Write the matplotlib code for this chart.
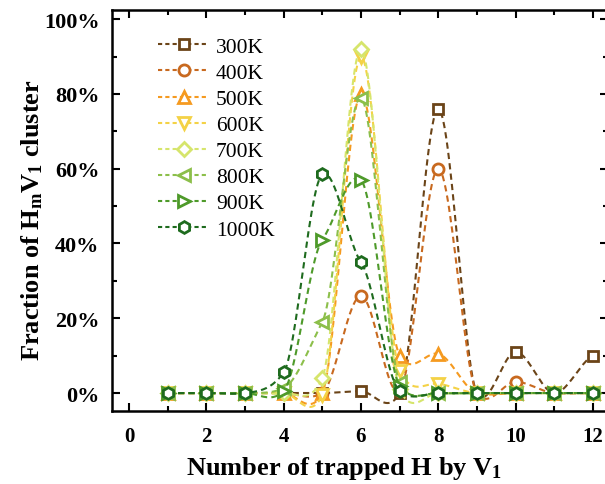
import numpy as np
import matplotlib
matplotlib.use("Agg")
import matplotlib.pyplot as plt
from matplotlib.ticker import MultipleLocator, FuncFormatter

plt.rcParams['font.family'] = ['Liberation Serif', 'DejaVu Serif']
plt.rcParams['font.weight'] = 'bold'
plt.rcParams['mathtext.fontset'] = 'custom'
plt.rcParams['mathtext.rm'] = 'Liberation Serif:bold'
plt.rcParams['mathtext.it'] = 'Liberation Serif:italic:bold'
plt.rcParams['mathtext.bf'] = 'Liberation Serif:bold'

n_h = [1, 2, 3, 4, 5, 6, 7, 8, 9, 10, 11, 12]
labels = ['300K', '400K', '500K', '600K', '700K', '800K', '900K', '1000K']
v300 = [0, 0, 0, 0, 0, 0.5, 0, 76, 0, 11, 0, 10]
v400 = [0, 0, 0, 0, 0, 26, 0.5, 60, 0, 3, 0, 0]
v500 = [0, 0, 0, 0, 0, 80, 10, 10.5, 0, 0, 0, 0]
v600 = [0, 0, 0, 0, -0.5, 90, 6, 2.5, 0, 0, 0, 0]
v700 = [0, 0, 0, 0, 4, 92, 1, 0, 0, 0, 0, 0]
v800 = [0, 0, 0, 1.3, 19, 79, 3, 0, 0, 0, 0, 0]
v900 = [0, 0, 0, 0.5, 41, 57, 2, 0, 0, 0, 0, 0]
v1000 = [0, 0, 0, 5.5, 58.5, 35, 0.5, 0, 0, 0, 0, 0]
series = [v300, v400, v500, v600, v700, v800, v900, v1000]
colors = ['#6b4418', '#c8691f', '#f59a20', '#f4d246', '#d6e56c', '#8cbf4a', '#4e9a2a', '#1e6b1e']
markers = ['s', 'o', '^', 'v', 'D', '<', '>', 'h']
msizes = [7, 8, 8.5, 8.5, 7.5, 8.5, 8.5, 8.5]


def cardinal_spline(x, y, tension=0.5, n=25):
    x = np.asarray(x, float)
    y = np.asarray(y, float)
    m = len(x)
    d = np.zeros(m)
    for i in range(m):
        lo, hi = max(i - 1, 0), min(i + 1, m - 1)
        d[i] = (1 - tension) * (y[hi] - y[lo]) / (x[hi] - x[lo])
    xs, ys = [], []
    for i in range(m - 1):
        h = x[i + 1] - x[i]
        t = np.linspace(0, 1, n, endpoint=(i == m - 2))
        h00 = 2 * t**3 - 3 * t**2 + 1
        h10 = t**3 - 2 * t**2 + t
        h01 = -2 * t**3 + 3 * t**2
        h11 = t**3 - t**2
        xs.append(x[i] + t * h)
        ys.append(h00 * y[i] + h10 * h * d[i] + h01 * y[i + 1] + h11 * h * d[i + 1])
    return np.concatenate(xs), np.concatenate(ys)


fig = plt.figure(figsize=(6.05, 4.85), dpi=100)
ax = fig.add_axes([0.185, 0.1505, 0.8207, 0.8265])

handles = []
for vals, lab, c, mk, ms in zip(series, labels, colors, markers, msizes):
    sx, sy = cardinal_spline(n_h, vals)
    ax.plot(sx, sy, color=c, lw=1.5, ls=(0, (3, 2)))
    ax.plot(n_h, vals, ls='none', marker=mk, ms=ms, mfc='white', mec=c, mew=2)
    h, = ax.plot([], [], color=c, lw=1.5, ls=(0, (2, 1.5)), marker=mk, ms=ms,
                 mfc='white', mec=c, mew=2, label=lab)
    handles.append(h)

ax.set_xlim(-0.44, 12.4)
ax.set_ylim(-4.8, 102.4)
ax.xaxis.set_major_locator(MultipleLocator(2))
ax.xaxis.set_minor_locator(MultipleLocator(1))
ax.yaxis.set_major_locator(MultipleLocator(20))
ax.yaxis.set_minor_locator(MultipleLocator(10))
ax.yaxis.set_major_formatter(FuncFormatter(lambda v, p: '%d%%' % round(v)))
ax.tick_params(which='both', direction='in', top=True, right=True, width=1.5)
ax.tick_params(which='major', length=6)
ax.tick_params(axis='x', which='major', pad=11, labelsize=15)
ax.tick_params(axis='y', which='major', pad=9, labelsize=16)
ax.tick_params(which='minor', length=3.5)
for lbl in ax.get_xticklabels() + ax.get_yticklabels():
    lbl.set_fontweight('bold')
for sp in ax.spines.values():
    sp.set_linewidth(1.8)

ax.set_xlabel(r'Number of trapped H by V$_{\mathrm{1}}$', fontsize=19, fontweight='bold')
ax.set_ylabel(r'Fraction of H$_{\mathrm{m}}$V$_{\mathrm{1}}$ cluster', fontsize=19, fontweight='bold')
ax.xaxis.set_label_coords(0.467, -0.108)
ax.yaxis.set_label_coords(-0.135, 0.479)

leg = ax.legend(handles=handles, loc='upper left', bbox_to_anchor=(0.075, 0.955),
                frameon=False, fontsize=15.5, handlelength=2.4, handletextpad=0.3,
                labelspacing=0.28, borderaxespad=0)
for t in leg.get_texts():
    t.set_fontweight('normal')

fig.savefig('out.png', dpi=100)
